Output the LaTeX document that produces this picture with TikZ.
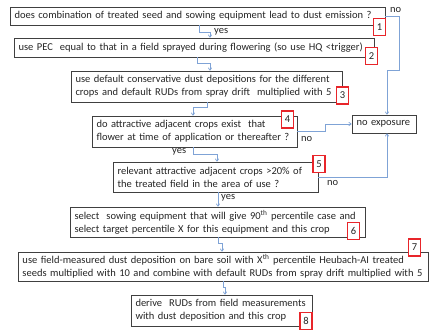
\documentclass[tikz,border=0pt]{standalone}
\usepackage{fontspec}
\setmainfont{Carlito}
\usetikzlibrary{arrows.meta,calc}
\definecolor{boxc}{HTML}{404040}
\definecolor{conc}{HTML}{7FA3D6}
\definecolor{redc}{HTML}{E8252A}
\definecolor{txtc}{HTML}{262626}
\begin{document}
\begin{tikzpicture}[x=1pt,y=-1pt,
  every node/.style={font=\fontsize{10.5}{13}\selectfont, text=txtc},
  stepbox/.style={draw=boxc, line width=0.9pt, fill=white, align=left, inner xsep=4.5pt, inner ysep=0pt, anchor=center},
  numbox/.style={draw=redc, line width=1.6pt, fill=white, inner sep=0pt, minimum width=12pt, minimum height=17pt, anchor=center},
  conn/.style={draw=conc, line width=0.7pt, -{To[length=3pt,width=4pt]}},
  lbl/.style={inner sep=0pt}
]
\useasboundingbox (0,0) rectangle (434,333);
\fill[white] (0,0) rectangle (434,333);

\node[stepbox, text width=366pt, minimum height=18pt] (b1) at (197.5,16) {does combination of treated seed and sowing equipment lead to dust emission ?};
\node[stepbox, text width=351pt, minimum height=19pt] (b2) at (194,47.5) {use PEC\ \ equal to that in a field sprayed during flowering (so use HQ <trigger)};
\node[stepbox, text width=262pt, minimum height=31pt] (b3) at (206.5,86.5) {use default conservative dust depositions for the different\\crops and default RUDs from spray drift\ \ multiplied with 5};
\node[stepbox, text width=196pt, minimum height=31pt] (b4) at (194.5,131.5) {do attractive adjacent crops exist\ \ that\\flower at time of application or thereafter ?};
\node[stepbox, text width=55pt, minimum height=18pt] (nx) at (384,124) {no exposure};
\node[stepbox, text width=196pt, minimum height=30pt] (b5) at (215.5,177) {relevant attractive adjacent crops >20\% of\\the treated field in the area of use ?};
\node[stepbox, text width=286pt, minimum height=30pt] (b6) at (217.5,222) {select\ \ sowing equipment that will give 90\textsuperscript{th} percentile case and\\select target percentile X for this equipment and this crop};
\node[stepbox, text width=401pt, minimum height=29pt] (b7) at (223,266.5) {use field-measured dust deposition on bare soil with X\textsuperscript{th} percentile Heubach-AI treated\\seeds multiplied with 10 and combine with default RUDs from spray drift multiplied with 5};
\node[stepbox, text width=172pt, minimum height=31pt] (b8) at (221.5,310.5) {derive\ \ RUDs from field measurements\\with dust deposition and this crop};

\node[numbox] (n1) at (379.5,27) {1};
\node[numbox] (n2) at (371.5,56) {2};
\node[numbox] (n3) at (342.5,95.5) {3};
\node[numbox] (n4) at (287.5,119.5) {4};
\node[numbox] (n5) at (319,164) {5};
\node[numbox] (n6) at (353.5,231) {6};
\node[numbox] (n7) at (414.5,247.5) {7};
\node[numbox] (n8) at (306,321) {8};

\draw[conn] (199,0 |- b1.south) |- (210,32) -- (210,0 |- b2.north);
\draw[conn] (197,0 |- b2.south) |- (210,63) -- (210,0 |- b3.north);
\draw[conn] (207,0 |- b3.south) |- (193,107) -- (193,0 |- b4.north);
\draw[conn] (193,0 |- b4.south) |- (217,154) -- (217,0 |- b5.north);
\draw[conn] (218,0 |- b5.south) -- (218,0 |- b6.north);
\draw[conn] (218,0 |- b6.south) |- (222,243) -- (222,0 |- b7.north);
\draw[conn] (223,0 |- b7.south) |- (225,287) -- (225,0 |- b8.north);
\draw[conn] (b1.east) -| (399,70) -| (387,0 |- nx.north);
\draw[conn] (b4.east) -| (325,0 |- nx.west) -- (nx.west);
\draw[conn] (b5.east) -| (387,0 |- nx.south);

\node[lbl, anchor=west] (l1) at (390,10) {no};
\node[lbl, anchor=west] (l2) at (214,32) {yes};
\node[lbl, anchor=west] (l3) at (301,139) {no};
\node[lbl, anchor=west] (l4) at (172,152) {yes};
\node[lbl, anchor=west] (l5) at (327,183) {no};
\node[lbl, anchor=west] (l6) at (221,198) {yes};
\end{tikzpicture}
\end{document}
